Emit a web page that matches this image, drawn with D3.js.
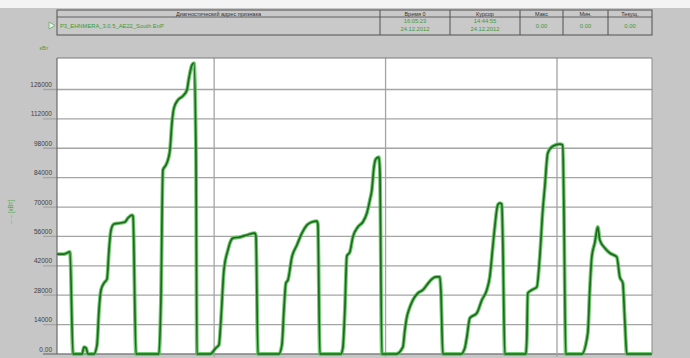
<!DOCTYPE html>
<html>
<head>
<meta charset="utf-8">
<script src="https://cdn.jsdelivr.net/npm/d3@7"></script>
<style>
  html, body { margin: 0; padding: 0; background: #c6c6c6; }
  svg { display: block; font-family: "Liberation Sans", Arial, sans-serif; }
</style>
</head>
<body>
<svg id="chart" width="690" height="358"></svg>
<script>
// Trend data: hours from the start of the window, and measured value
const hours = [0, 0.98, 1.82, 2.24, 3.50, 3.78, 4.06, 4.34, 5.18, 5.60, 5.88, 6.16, 6.58, 7.00, 7.28, 7.56, 7.98, 8.82, 9.52, 9.94, 10.50, 10.64, 11.06,
  14.27, 14.55, 14.83, 15.25, 15.53, 15.81, 16.09, 16.37, 16.93, 17.63, 18.19, 18.47, 18.89, 19.17, 19.45, 19.59,
  21.41, 22.25, 22.67, 22.95, 23.37, 23.93, 24.21, 24.63, 25.61, 26.59, 27.71, 27.85, 28.13,
  31.07, 31.49, 31.77, 32.05, 32.33, 32.89, 33.59, 34.29, 34.99, 35.68, 36.38, 36.52, 36.80,
  39.74, 40.02, 40.30, 40.58, 41.00, 41.42, 42.12, 42.82, 43.38, 43.80, 44.08, 44.36, 44.64, 45.06, 45.20, 45.48,
  47.44, 48.42, 48.70, 48.98, 49.26, 49.82, 50.52, 51.22, 51.78, 52.48, 53.04, 53.60, 53.74, 54.02,
  56.54, 57.10, 57.38, 57.80, 58.78, 59.48, 60.17, 60.59, 61.01, 61.29, 61.71, 61.99, 62.27, 62.41, 62.69,
  65.63, 65.77, 65.91, 66.47, 67.17, 67.59, 68.01, 68.29, 68.71, 69.41, 70.39, 70.81, 70.95, 71.23,
  73.47, 74.31, 74.59, 74.87, 75.29, 75.71, 75.99, 76.69, 77.39, 78.37, 78.79, 79.21, 79.49, 79.77, 83.27];
const values = [47600, 47600, 48600, 0, 0, 3300, 2900, 0, 0, 4300, 21000, 30500, 33800, 35700, 49500, 59000, 61900, 62400, 62900, 64800, 66200, 65700, 0,
  0, 25700, 87600, 90000, 92400, 97100, 110000, 117100, 121000, 122900, 125700, 131400, 137600, 138600, 97100, 0,
  0, 2900, 4300, 16200, 40000, 49500, 52900, 55200, 55700, 56700, 57600, 56200, 0,
  0, 4300, 21000, 33800, 35200, 46200, 51900, 57600, 61400, 62900, 63300, 61900, 0,
  0, 2900, 21000, 46700, 48600, 55700, 60500, 62900, 67100, 73300, 78100, 88600, 92900, 93800, 87600, 0,
  0, 3300, 11400, 17600, 21000, 25700, 29000, 30500, 32900, 35700, 36700, 36700, 30500, 0,
  0, 2900, 8100, 17100, 19500, 25700, 30500, 36700, 51000, 60500, 71000, 71900, 71400, 54300, 0,
  0, 6700, 29000, 30500, 31900, 46200, 68600, 79500, 95700, 99000, 100000, 99500, 73300, 0,
  0, 10000, 30500, 46200, 52900, 60500, 54300, 50500, 48100, 46200, 36700, 33800, 16200, 0, 0];

const yTicks = [0, 14000, 28000, 42000, 56000, 70000, 84000, 98000, 112000, 126000];
const yTickLabels = ["0.00", "14000", "28000", "42000", "56000", "70000", "84000", "98000", "112000", "126000"];
const dayMarks = [22, 46, 70]; // midnights inside the window

// Header table contents
const tableHeaders = ["Диагностический адрес признака", "Время 0", "Курсор", "Макс", "Мин.", "Текущ."];
const signalName = "P3_EHNMERA_3.0.5_AE22_South EnP";
const timeZero = ["16:05:23", "24.12.2012"];
const timeCursor = ["14:44:55", "24.12.2012"];
const statValues = ["0.00", "0.00", "0.00"];

const svg = d3.select("#chart");
const W = 690, H = 358;
const plot = { left: 57, right: 652, top: 58, bottom: 354 };

svg.append("rect").attr("width", W).attr("height", H).attr("fill", "#c6c6c6");
svg.append("rect").attr("width", W).attr("height", 8).attr("fill", "#f4f4f4");

// ---- header table ----
const cols = [57, 380, 450, 520, 563, 608, 652];
const tTop = 10, tMid = 17, tBot = 35;
const tbl = svg.append("g");
tbl.append("rect").attr("x", cols[0]).attr("y", tTop).attr("width", cols[6] - cols[0]).attr("height", tBot - tTop)
  .attr("fill", "#c9c9c9").attr("stroke", "#505050").attr("stroke-width", 1);
tbl.append("line").attr("x1", cols[0]).attr("x2", cols[6]).attr("y1", tMid).attr("y2", tMid)
  .attr("stroke", "#606060");
cols.slice(1, 6).forEach(c => tbl.append("line").attr("x1", c).attr("x2", c).attr("y1", tTop).attr("y2", tBot)
  .attr("stroke", "#505050"));
tableHeaders.forEach((t, i) => {
  tbl.append("text").attr("x", (cols[i] + cols[i + 1]) / 2).attr("y", tMid - 1.5)
    .attr("text-anchor", "middle").attr("font-size", 5.5).attr("fill", "#303030").text(t);
});
tbl.append("text").attr("x", 60).attr("y", 27.5).attr("font-size", 5.8).attr("fill", "#3a9a3a").text(signalName);
tbl.append("path").attr("d", "M49,22 L55,25.5 L49,29 Z").attr("fill", "#e6f2e6").attr("stroke", "#6aa86a").attr("stroke-width", 0.8);
[timeZero, timeCursor].forEach((lines, k) => {
  lines.forEach((s, j) => {
    tbl.append("text").attr("x", (cols[k + 1] + cols[k + 2]) / 2).attr("y", 23 + j * 8)
      .attr("text-anchor", "middle").attr("font-size", 5.8).attr("fill", "#3a9a3a").text(s);
  });
});
statValues.forEach((s, k) => {
  tbl.append("text").attr("x", (cols[k + 3] + cols[k + 4]) / 2).attr("y", 28)
    .attr("text-anchor", "middle").attr("font-size", 5.8).attr("fill", "#3a9a3a").text(s);
});

// ---- scales ----
const x = d3.scaleLinear().domain([0, 83.3]).range([plot.left, plot.right]);
const y = d3.scaleLinear().domain([0, 141000]).range([plot.bottom, plot.top]);

// plot background
svg.append("rect").attr("x", plot.left).attr("y", plot.top)
  .attr("width", plot.right - plot.left).attr("height", plot.bottom - plot.top).attr("fill", "#ffffff");

// horizontal grid, with short ticks reaching into the left margin
const grid = svg.append("g");
yTicks.forEach(v => {
  grid.append("line").attr("x1", 43).attr("x2", plot.right).attr("y1", y(v)).attr("y2", y(v))
    .attr("stroke", v === 0 ? "#808080" : "#a4a4a4").attr("stroke-width", v === 0 ? 1.6 : 1.3);
});
dayMarks.forEach(h => {
  grid.append("line").attr("x1", x(h)).attr("x2", x(h)).attr("y1", plot.top).attr("y2", plot.bottom + 3)
    .attr("stroke", "#a4a4a4").attr("stroke-width", 1.3);
});
// frame
svg.append("line").attr("x1", plot.left).attr("x2", plot.right).attr("y1", plot.top).attr("y2", plot.top)
  .attr("stroke", "#7a7a7a").attr("stroke-width", 1.2);
svg.append("line").attr("x1", plot.left).attr("x2", plot.left).attr("y1", plot.top).attr("y2", plot.bottom)
  .attr("stroke", "#6a6a6a").attr("stroke-width", 1.2);
svg.append("line").attr("x1", plot.right).attr("x2", plot.right).attr("y1", plot.top).attr("y2", plot.bottom)
  .attr("stroke", "#8a8a8a").attr("stroke-width", 1);

// y tick labels
yTicks.forEach((v, i) => {
  svg.append("text").attr("x", 52).attr("y", y(v) - 2.5).attr("text-anchor", "end")
    .attr("font-size", 6.5).attr("fill", "#404040").text(yTickLabels[i]);
});

// units
svg.append("text").attr("x", 44).attr("y", 50).attr("text-anchor", "middle")
  .attr("font-size", 6).attr("fill", "#4aa04a").text("кВт");
const yl = svg.append("text").attr("transform", "translate(13,224) rotate(-90)")
  .attr("font-size", 6.5);
yl.append("tspan").attr("fill", "#9a9a9a").text("– – ");
yl.append("tspan").attr("fill", "#5aaa5a").text("[кВт]");

// ---- trend line ----
const pts = hours.map((h, i) => [h, values[i]]);
const line = d3.line().x(d => x(d[0])).y(d => y(d[1])).curve(d3.curveMonotoneX);
svg.append("path").datum(pts).attr("d", line).attr("fill", "none")
  .attr("stroke", "#5cbf5c").attr("stroke-width", 3.8).attr("stroke-linejoin", "round").attr("opacity", 0.85);
svg.append("path").datum(pts).attr("d", line).attr("fill", "none")
  .attr("stroke", "#1d6a1d").attr("stroke-width", 1.7).attr("stroke-linejoin", "round");
</script>
</body>
</html>
